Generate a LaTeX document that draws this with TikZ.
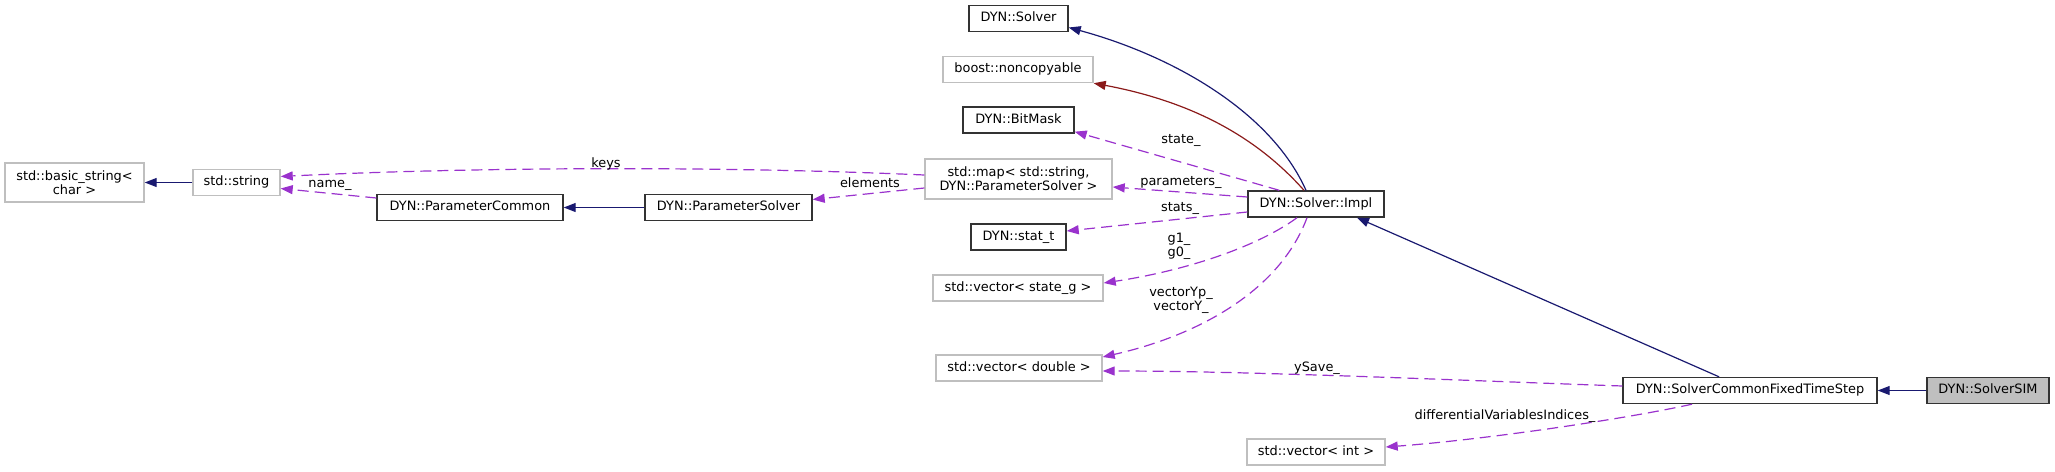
\documentclass[tikz,border=0pt]{standalone}
\usepackage{fontspec}
\newfontfamily\graphfont{DejaVu Sans}
\newcommand\graphsize{\graphfont\fontsize{12.9}{14}\selectfont}
\usetikzlibrary{positioning, arrows.meta, calc}
\definecolor{edgeblue}{HTML}{191970}
\definecolor{edgered}{HTML}{8B1A1A}
\definecolor{edgepurple}{HTML}{9A32CD}
\definecolor{boxgrey}{HTML}{BFBFBF}

\begin{document}
\begin{tikzpicture}[x=1pt, y=-1pt]
		% estilos de cajas y flechas
		\tikzset{
			boxbase/.style={
					rectangle, line width=1.4pt,
					minimum height=26pt, inner sep=0pt,
					font=\graphsize
				},
			docbox/.style={
					boxbase, draw=black!80,
					text height=9.5pt, text depth=3pt
				},
			extbox/.style={
					boxbase, draw=boxgrey,
					text height=9.5pt, text depth=3pt
				},
			extbox two/.style={
					boxbase, draw=boxgrey, align=center
				},
			inherit line/.style={
					draw=edgeblue, line width=1.2pt,
					-{Triangle[length=12pt, width=9pt]}
				},
			private line/.style={
					draw=edgered, line width=1.2pt,
					-{Triangle[length=12pt, width=9pt]}
				},
			member line/.style={
					draw=edgepurple, line width=1.2pt,
					dash pattern=on 11pt off 6pt,
					-{Triangle[length=12pt, width=9pt]}
				},
			member text/.style={
					font=\graphsize, inner sep=0pt,
					text height=9.5pt, text depth=3pt
				},
			member text two/.style={
					font=\graphsize, inner sep=0pt, align=center
				}
		}
		\useasboundingbox (0,0) rectangle (2055,471);

		% clases
		\node[extbox two, minimum width=139pt, minimum height=39pt] (bstr) at (74.5,182.5) {std::basic\_string<\\char >};
		\node[extbox, minimum width=87pt] (str) at (236.5,182.5) {std::string};
		\node[docbox, minimum width=186pt] (pc) at (470,207.5) {DYN::ParameterCommon};
		\node[docbox, minimum width=167pt] (ps) at (728.5,207.5) {DYN::ParameterSolver};
		\node[extbox two, minimum width=187pt, minimum height=40pt] (map) at (1018.5,179) {std::map< std::string,\\DYN::ParameterSolver >};
		\node[docbox, minimum width=99pt] (solver) at (1018.5,18.5) {DYN::Solver};
		\node[extbox, minimum width=150pt] (nc) at (1018,69.5) {boost::noncopyable};
		\node[docbox, minimum width=111pt] (bm) at (1018.5,120) {DYN::BitMask};
		\node[docbox, minimum width=95pt] (st) at (1018.5,237) {DYN::stat\_t};
		\node[extbox, minimum width=170pt] (vsg) at (1018,288) {std::vector< state\_g >};
		\node[extbox, minimum width=166pt] (vd) at (1019,368) {std::vector< double >};
		\node[docbox, minimum width=136pt] (impl) at (1316,204) {DYN::Solver::Impl};
		\node[extbox, minimum width=138pt] (vi) at (1316,452) {std::vector< int >};
		\node[docbox, minimum width=254pt] (scfts) at (1750,390.5) {DYN::SolverCommonFixedTimeStep};
		\node[docbox, fill=boxgrey, minimum width=122pt] (sim) at (1988,390.5) {DYN::SolverSIM};

		% herencia
		\foreach \from/\to in {str/bstr, ps/pc, sim/scfts} {
				\draw[inherit line] (\from) -- (\to);
			}
		\draw[inherit line] ($(impl.north)+(-10,0)$) .. controls (1270,110) and (1170,55) .. ($(solver.east)+(0,9)$);
		\draw[private line] ($(impl.north)+(-12,0)$) .. controls (1268,150) and (1210,105) .. (nc.south east);
		\draw[inherit line] ($(scfts.north)+(-31,0)$) -- ($(impl.south)+(41,0)$);

		% miembros
		\draw[member line] ($(pc.west)+(0,-9.5)$) -- ($(str.east)+(0,6)$)
			node[member text] (lname) at (330,183.75) {name\_};
		\draw[member line] ($(map.west)+(0,-4)$) .. controls (700,165) and (450,168) .. ($(str.east)+(0,-6)$)
			node[member text] (lkeys) at (606,163.75) {keys};
		\draw[member line] ($(map.west)+(0,9)$) -- ($(ps.east)+(0,-8)$)
			node[member text] (lelem) at (870,184) {elements};
		\draw[member line] ($(impl.north west)+(32,0)$) -- ($(bm.south east)+(0,-2)$)
			node[member text] (lstate) at (1181,140) {state\_};
		\draw[member line] ($(impl.west)+(0,-7)$) -- ($(map.east)+(0,8)$)
			node[member text] (lparam) at (1181,181.75) {parameters\_};
		\draw[member line] ($(impl.west)+(0,8)$) -- ($(st.east)+(0,-6)$)
			node[member text] (lstats) at (1180,208.4) {stats\_};
		\draw[member line] ($(impl.south)+(-19,0)$) .. controls (1260,245) and (1190,270) .. ($(vsg.east)+(0,-5)$)
			node[member text two] (lg) at (1179,246.5) {g1\_\\g0\_};
		\draw[member line] ($(impl.south)+(-9,0)$) .. controls (1280,290) and (1200,335) .. ($(vd.east)+(0,-11)$)
			node[member text two] (lvec) at (1181,300) {vectorYp\_\\vectorY\_};
		\draw[member line] ($(scfts.west)+(0,-4.5)$) .. controls (1450,380) and (1250,371) .. ($(vd.east)+(0,3)$)
			node[member text] (lysave) at (1317,368.4) {ySave\_};
		\draw[member line] ($(scfts.south)+(-58,0)$) .. controls (1620,420) and (1480,440) .. ($(vi.east)+(0,-5)$)
			node[member text] (ldiff) at (1505,416) {differentialVariablesIndices\_};
	\end{tikzpicture}
\end{document}
